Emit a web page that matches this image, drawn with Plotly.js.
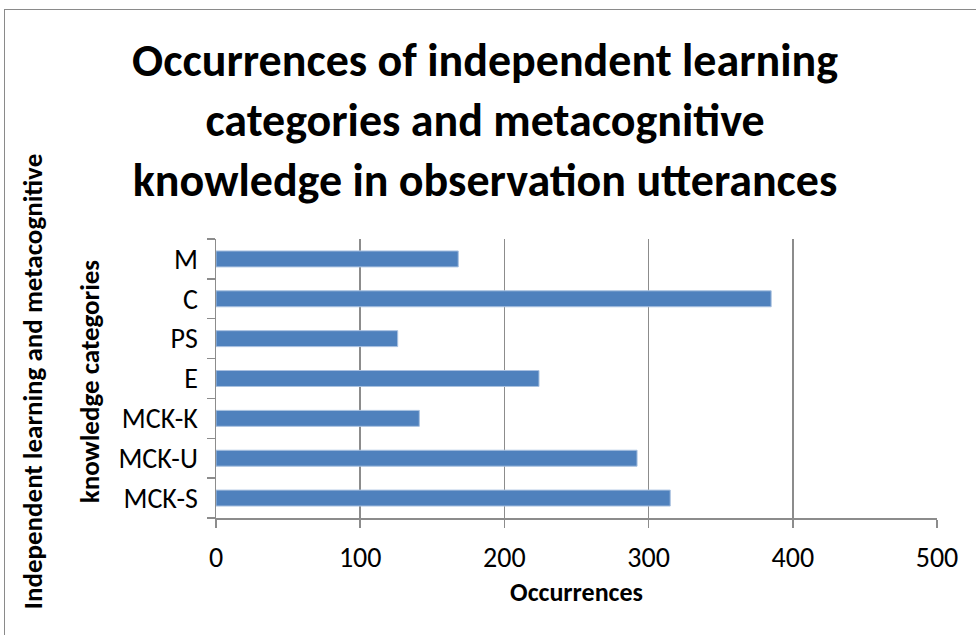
<!DOCTYPE html>
<html>
<head>
<meta charset="utf-8">
<script src="https://cdn.plot.ly/plotly-3.0.1.min.js"></script>
<style>
html,body{margin:0;padding:0;background:#fff;}
#frame{position:absolute;left:4px;top:9px;width:1000px;height:700px;border:1px solid #8a8a8a;box-sizing:border-box;pointer-events:none;}
#chart{position:absolute;left:0;top:0;width:976px;height:635px;}
</style>
</head>
<body>
<div id="chart"></div>
<div id="frame"></div>
<script>
var categories = ["MCK-S", "MCK-U", "MCK-K", "E", "PS", "C", "M"];
var occurrences = [315, 292, 141, 224, 126, 385, 168];
var xTickValues = [0, 100, 200, 300, 400, 500];
var yTitleLines = ["Independent learning and metacognitive", "knowledge categories"];

var font = "Carlito, Calibri, Lato, 'Open Sans', sans-serif";

var trace = {
  type: "bar",
  orientation: "h",
  y: categories,
  x: occurrences,
  marker: {color: "#4F81BD", line: {color: "#a9c1e0", width: 1}},
  hoverinfo: "x+y"
};

var plotL = 216, plotR = 937, plotT = 239, plotB = 518;
function px2paperX(p) { return (p - plotL) / (plotR - plotL); }

var layout = {
  width: 976,
  height: 635,
  margin: {l: plotL, r: 976 - plotR, t: plotT, b: 635 - plotB},
  paper_bgcolor: "#ffffff",
  plot_bgcolor: "#ffffff",
  showlegend: false,
  bargap: 0.6,
  title: {
    text: "Occurrences of independent learning<br>categories and metacognitive<br>knowledge in observation utterances",
    font: {family: font, size: 46, color: "#000000", weight: "bold"},
    x: 0.497, xref: "container", xanchor: "center",
    y: 1 - 76 / 635, yref: "container", yanchor: "middle"
  },
  xaxis: {
    range: [0, 500],
    tickvals: xTickValues,
    ticktext: xTickValues.map(String),
    showgrid: true,
    gridcolor: "#8c8c8c",
    gridwidth: 1.5,
    zeroline: false,
    showline: true,
    linecolor: "#8c8c8c",
    linewidth: 1.5,
    ticks: "outside",
    ticklen: 8,
    tickwidth: 1.5,
    tickcolor: "#8c8c8c",
    tickfont: {family: font, size: 28, color: "#000"},
    ticklabelstandoff: 6,
    title: {text: "Occurrences", font: {family: font, size: 26, color: "#000", weight: "bold"}, standoff: 8},
    fixedrange: true
  },
  yaxis: {
    categoryorder: "array",
    categoryarray: categories,
    showgrid: false,
    showline: true,
    linecolor: "#8c8c8c",
    linewidth: 1.5,
    ticks: "outside",
    ticklen: 8,
    tickwidth: 1.5,
    tickcolor: "#8c8c8c",
    tickson: "boundaries",
    tickfont: {family: font, size: 28, color: "#000"},
    ticklabelstandoff: 11,
    fixedrange: true
  },
  annotations: [
    {text: yTitleLines[0], xref: "paper", yref: "paper", x: px2paperX(32), y: 0.49,
     xanchor: "center", yanchor: "middle", textangle: -90, showarrow: false,
     font: {family: font, size: 27, color: "#000", weight: "bold"}},
    {text: yTitleLines[1], xref: "paper", yref: "paper", x: px2paperX(89), y: 0.49,
     xanchor: "center", yanchor: "middle", textangle: -90, showarrow: false,
     font: {family: font, size: 27, color: "#000", weight: "bold"}}
  ]
};

Plotly.newPlot("chart", [trace], layout, {displayModeBar: false, staticPlot: true});
</script>
</body>
</html>
